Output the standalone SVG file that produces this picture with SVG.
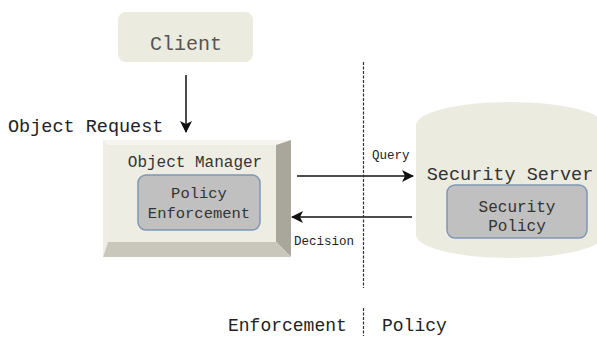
<svg xmlns="http://www.w3.org/2000/svg" width="597" height="337" viewBox="0 0 597 337">
<style>
.t{font-family:"Liberation Mono","DejaVu Sans Mono",monospace;fill:#333;text-anchor:middle}
.s{font-family:"Liberation Mono","DejaVu Sans Mono",monospace;fill:#222}
.inner{fill:#c0c0c0;stroke:#7f97b5;stroke-width:1.5}
.conn{stroke:#111;stroke-width:1.5;fill:none}
.sep{stroke:#333;stroke-width:1.2;stroke-dasharray:3 1.5;fill:none}
</style>
<defs>
<marker id="ah" viewBox="0 0 12 12" refX="11" refY="6" markerWidth="12" markerHeight="12" markerUnits="userSpaceOnUse" orient="auto">
<path d="M0,0 L12,6 L0,12 L3,6 Z" fill="#111"/>
</marker>
</defs>
<g id="client">
<rect x="118" y="12" width="135" height="50" rx="8" fill="#ecebe0"/>
<text class="t" x="186" y="50" font-size="20" style="fill:#555">Client</text>
</g>
<g id="object-manager">
<polygon points="103,140 291,140 276,145 108,145" fill="#f5f4ee"/>
<polygon points="103,140 108,145 108,242 103,257" fill="#efeee5"/>
<polygon points="291,140 291,257 276,242 276,145" fill="#a9a79c"/>
<polygon points="103,257 291,257 276,242 108,242" fill="#c9c7bc"/>
<rect x="108" y="145" width="168" height="97" fill="#eeede3"/>
<text class="t" x="195" y="167" font-size="16">Object Manager</text>
</g>
<g id="policy-enforcement">
<rect class="inner" x="138" y="175" width="122" height="55" rx="8"/>
<text class="t" x="199" y="198" font-size="15.5">Policy</text>
<text class="t" x="199" y="218" font-size="15.5">Enforcement</text>
</g>
<g id="security-server">
<path d="M416,125 A94,23 0 0 1 604,125 L604,235 A94,23 0 0 1 416,235 Z" fill="#ecebe0"/>
<text class="t" x="510" y="180" font-size="18.5">Security Server</text>
</g>
<g id="security-policy">
<rect class="inner" x="447" y="185" width="140" height="53" rx="8"/>
<text class="t" x="517" y="212" font-size="16">Security</text>
<text class="t" x="517" y="231" font-size="16">Policy</text>
</g>
<g id="connectors">
<line class="conn" x1="186" y1="75" x2="186" y2="132" marker-end="url(#ah)"/>
<line class="conn" x1="297" y1="176" x2="413" y2="176" marker-end="url(#ah)"/>
<line class="conn" x1="412" y1="217" x2="292" y2="217" marker-end="url(#ah)"/>
<line class="sep" x1="363.5" y1="62" x2="363.5" y2="288"/>
<line class="sep" x1="363.5" y1="308" x2="363.5" y2="336"/>
</g>
<g id="labels">
<text class="s" x="8" y="132" font-size="18.5">Object Request</text>
<text class="s" x="372" y="159" font-size="12.5">Query</text>
<text class="s" x="294" y="245" font-size="12.5">Decision</text>
<text class="s" x="228" y="331" font-size="18">Enforcement</text>
<text class="s" x="382" y="331" font-size="18">Policy</text>
</g>
</svg>
